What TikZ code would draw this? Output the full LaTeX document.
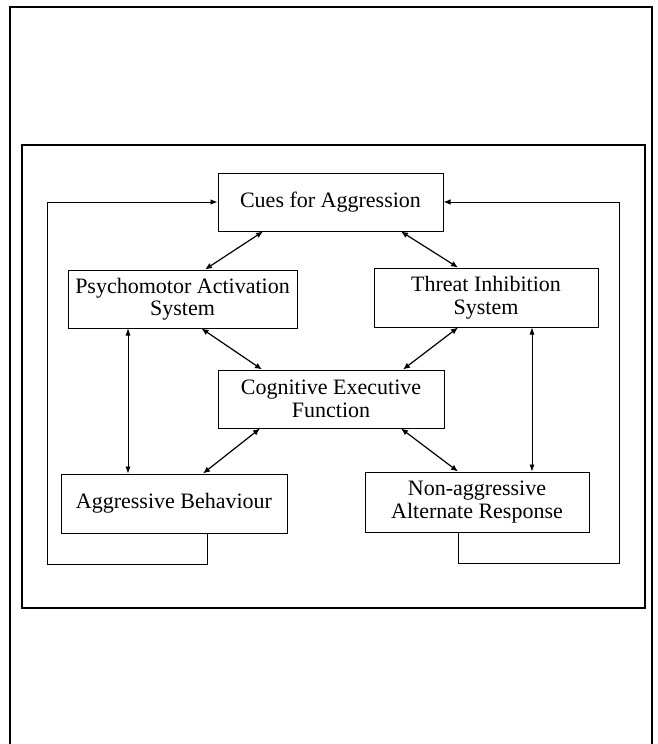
\documentclass[tikz,border=0pt]{standalone}
\usepackage{fontspec}
\setmainfont{Liberation Serif}
\usetikzlibrary{arrows.meta,positioning}

\begin{document}
\begin{tikzpicture}[x=1pt,y=-1pt,
    box/.style={draw,line width=1pt,align=center,inner sep=0pt,font=\fontsize{22}{22.5}\selectfont},
    link/.style={{Latex[length=7pt,width=6pt]}-{Latex[length=7pt,width=6pt]},line width=1.2pt},
    fine/.style={{Latex[length=7pt,width=5pt]}-{Latex[length=7pt,width=5pt]},line width=0.6pt},
    loop/.style={-{Latex[length=7pt,width=5.5pt]},line width=0.9pt}]
        \useasboundingbox (0,0) rectangle (657,744);
        % frames
        \draw[line width=1.2pt](10,744)--(10,7)--(652,7)--(652,744);
        \draw[line width=1.3pt](22,145)rectangle(645,608);
        % boxes
        \node[box,minimum width=225pt,minimum height=58pt](cues) at (330.5,202){Cues for Aggression};
        \node[box,minimum width=229pt,minimum height=58pt](psy) at (182.5,299){Psychomotor Activation\\System};
        \node[box,minimum width=224pt,minimum height=59pt](thr) at (486,297.5){Threat Inhibition\\System};
        \node[box,minimum width=226pt,minimum height=58pt](cog) at (331,399){Cognitive Executive\\Function};
        \node[box,minimum width=226pt,minimum height=59pt](agg) at (174,503.5){Aggressive Behaviour};
        \node[box,minimum width=224pt,minimum height=60pt](non) at (477,502){Non-aggressive\\Alternate Response};
        \coordinate (lb) at (47,564);
        \coordinate (rb) at (619,563);
        % links
        \draw[link]([xshift=-67.5pt]cues.south)--([xshift=22.5pt]psy.north);
        \draw[link]([xshift=70.5pt]cues.south)--([xshift=-28pt]thr.north);
        \draw[link]([xshift=19pt]psy.south)--([xshift=-69pt]cog.north);
        \draw[link]([xshift=-28pt]thr.south)--([xshift=72pt]cog.north);
        \draw[link]([xshift=-71pt]cog.south)--([xshift=29pt]agg.north);
        \draw[link]([xshift=70pt]cog.south)--([xshift=-19pt]non.north);
        \draw[fine]([xshift=-54.5pt]psy.south)--([xshift=-54.5pt]psy.south|-agg.north);
        \draw[fine]([xshift=46pt]thr.south)--([xshift=46pt]thr.south|-non.north);
        % feedback
        \draw[loop]([xshift=33pt]agg.south)|-(lb)|-(cues.west);
        \draw[loop]([xshift=-19pt]non.south)|-(rb)|-(cues.east);
\end{tikzpicture}
\end{document}
